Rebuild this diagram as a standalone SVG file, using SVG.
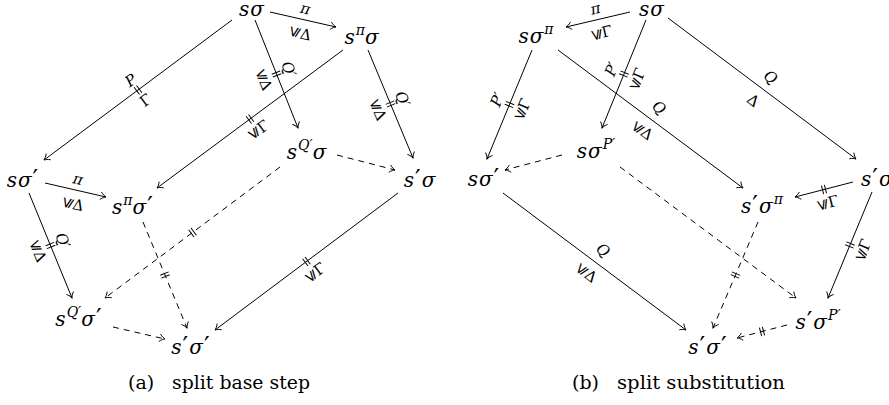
<svg xmlns="http://www.w3.org/2000/svg" width="889" height="405" viewBox="0 0 889 405">
<style>
text{font-family:"DejaVu Serif",serif;fill:#000}
.m{font-size:20px;font-style:italic;text-anchor:middle;letter-spacing:1px}
.sup{font-size:14px;letter-spacing:0}
.pr{font-size:25px;font-style:normal}
.l{font-size:15px;text-anchor:middle;dominant-baseline:central}
.li{font-style:italic}
.e{stroke:#000;stroke-width:1;fill:none}
.a{marker-end:url(#ah)}
.d{stroke-dasharray:6 5}
.cap{font-size:19px}
</style>
<defs>
<marker id="ah" viewBox="-7 -5 8 10" refX="0" refY="0" markerWidth="8" markerHeight="10" orient="auto" markerUnits="userSpaceOnUse">
<path d="M-5.5,-3.8 C-3.5,-1.6 -1.2,-0.4 0,0 C-1.2,0.4 -3.5,1.6 -5.5,3.8" fill="none" stroke="#000" stroke-width="0.9"/>
</marker>
</defs>
<rect width="889" height="405" fill="#fff"/>

<g id="connectors">
<!-- left diagram -->
<line class="e a" x1="232" y1="20" x2="44" y2="160"/>
<g transform="translate(138,90) rotate(-36.7)"><path class="e" d="M-1.5,-4.5V4.5M1.5,-4.5V4.5"/><text class="l li" y="-12">P</text><text class="l" y="13">Γ</text></g>
<line class="e a" x1="270" y1="12" x2="336" y2="27"/>
<g transform="translate(303,19.5) rotate(12.8)"><text class="l li" y="-11">π</text><text class="l" transform="translate(-6,14) rotate(-90)">⩽</text><text class="l" x="6" y="14">Δ</text></g>
<line class="e a" x1="255" y1="20" x2="298" y2="128"/>
<g transform="translate(276.5,74) rotate(68.3)"><path class="e" d="M-1.5,-4.5V4.5M1.5,-4.5V4.5"/><text class="l li" y="-13">Q′</text><text class="l" transform="translate(-6,14) rotate(-90)">⩽</text><text class="l" x="6" y="14">Δ</text></g>
<line class="e a" x1="343" y1="50" x2="157" y2="188"/>
<g transform="translate(250,119) rotate(-36.6)"><path class="e" d="M-1.5,-4.5V4.5M1.5,-4.5V4.5"/><text class="l" transform="translate(-6,14) rotate(-90)">⩽</text><text class="l" x="6" y="14">Γ</text></g>
<line class="e a" x1="368" y1="50" x2="413" y2="158"/>
<g transform="translate(390.5,104) rotate(67.4)"><path class="e" d="M-1.5,-4.5V4.5M1.5,-4.5V4.5"/><text class="l li" y="-13">Q′</text><text class="l" transform="translate(-6,14) rotate(-90)">⩽</text><text class="l" x="6" y="14">Δ</text></g>
<line class="e a" x1="45" y1="183" x2="106" y2="197"/>
<g transform="translate(75.5,190) rotate(13.1)"><text class="l li" y="-11">π</text><text class="l" transform="translate(-6,14) rotate(-90)">⩽</text><text class="l" x="6" y="14">Δ</text></g>
<line class="e a" x1="29" y1="193" x2="72" y2="298"/>
<g transform="translate(50.5,245.5) rotate(67.7)"><path class="e" d="M-1.5,-4.5V4.5M1.5,-4.5V4.5"/><text class="l li" y="-13">Q′</text><text class="l" transform="translate(-6,14) rotate(-90)">⩽</text><text class="l" x="6" y="14">Δ</text></g>
<line class="e a d" x1="337" y1="155" x2="395" y2="170"/>
<line class="e a d" x1="280" y1="167" x2="105" y2="298"/>
<g transform="translate(192.5,232.5) rotate(-36.8)"><path class="e" d="M-1.5,-4.5V4.5M1.5,-4.5V4.5"/></g>
<line class="e a d" x1="143" y1="222" x2="187" y2="328"/>
<g transform="translate(165,275) rotate(67.5)"><path class="e" d="M-1.5,-4.5V4.5M1.5,-4.5V4.5"/></g>
<line class="e a d" x1="113" y1="327" x2="165" y2="339"/>
<line class="e a" x1="398" y1="193" x2="215" y2="330"/>
<g transform="translate(306.5,261.5) rotate(-36.8)"><path class="e" d="M-1.5,-4.5V4.5M1.5,-4.5V4.5"/><text class="l" transform="translate(-6,14) rotate(-90)">⩽</text><text class="l" x="6" y="14">Γ</text></g>

<!-- right diagram -->
<line class="e a" x1="630" y1="12" x2="566" y2="27"/>
<g transform="translate(598,19.5) rotate(-13.2)"><text class="l li" y="-11">π</text><text class="l" transform="translate(-6,14) rotate(-90)">⩽</text><text class="l" x="6" y="14">Γ</text></g>
<line class="e a" x1="532" y1="50" x2="487" y2="159"/>
<g transform="translate(509.5,104.5) rotate(-67.6)"><path class="e" d="M-1.5,-4.5V4.5M1.5,-4.5V4.5"/><text class="l li" y="-13">P′</text><text class="l" transform="translate(-6,14) rotate(-90)">⩽</text><text class="l" x="6" y="14">Γ</text></g>
<line class="e a" x1="646" y1="20" x2="602" y2="128"/>
<g transform="translate(624,74) rotate(-67.8)"><path class="e" d="M-1.5,-4.5V4.5M1.5,-4.5V4.5"/><text class="l li" y="-13">P′</text><text class="l" transform="translate(-6,14) rotate(-90)">⩽</text><text class="l" x="6" y="14">Γ</text></g>
<line class="e a" x1="668" y1="18" x2="856" y2="159"/>
<g transform="translate(762,88.5) rotate(36.9)"><text class="l li" y="-14">Q</text><text class="l" y="15">Δ</text></g>
<line class="e a" x1="558" y1="50" x2="743" y2="188"/>
<g transform="translate(650.5,119) rotate(36.7)"><text class="l li" y="-14">Q</text><text class="l" transform="translate(-6,14) rotate(-90)">⩽</text><text class="l" x="6" y="14">Δ</text></g>
<line class="e a" x1="503" y1="193" x2="686" y2="330"/>
<g transform="translate(594.5,261.5) rotate(36.8)"><text class="l li" y="-14">Q</text><text class="l" transform="translate(-6,14) rotate(-90)">⩽</text><text class="l" x="6" y="14">Δ</text></g>
<line class="e a" x1="853" y1="182" x2="795" y2="197"/>
<g transform="translate(824,189.5) rotate(-14.5)"><path class="e" d="M-1.5,-4.5V4.5M1.5,-4.5V4.5"/><text class="l" transform="translate(-6,14) rotate(-90)">⩽</text><text class="l" x="6" y="14">Γ</text></g>
<line class="e a" x1="872" y1="192" x2="828" y2="298"/>
<g transform="translate(850,245) rotate(-67.5)"><path class="e" d="M-1.5,-4.5V4.5M1.5,-4.5V4.5"/><text class="l" transform="translate(-6,14) rotate(-90)">⩽</text><text class="l" x="6" y="14">Γ</text></g>
<line class="e a d" x1="562" y1="155" x2="505" y2="170"/>
<line class="e a d" x1="620" y1="167" x2="796" y2="298"/>
<line class="e a d" x1="758" y1="222" x2="713" y2="328"/>
<g transform="translate(735.5,275) rotate(-67)"><path class="e" d="M-1.5,-4.5V4.5M1.5,-4.5V4.5"/></g>
<line class="e a d" x1="787" y1="325" x2="737" y2="338"/>
<g transform="translate(762,331.5) rotate(-14.6)"><path class="e" d="M-1.5,-4.5V4.5M1.5,-4.5V4.5"/></g>
</g>

<!-- left nodes -->
<g id="a-s-sigma"><text class="m" x="252" y="16">sσ</text></g>
<g id="a-spi-sigma"><text class="m" x="362" y="44">s<tspan class="sup" dy="-9">π</tspan><tspan dy="9">σ</tspan></text></g>
<g id="a-s-sigmap"><text class="m" x="23" y="187">sσ<tspan class="pr">′</tspan></text></g>
<g id="a-spi-sigmap"><text class="m" x="133" y="214">s<tspan class="sup" dy="-9">π</tspan><tspan dy="9">σ</tspan><tspan class="pr">′</tspan></text></g>
<g id="a-sQ-sigma"><text class="m" x="307" y="159">s<tspan class="sup" dy="-9">Q′</tspan><tspan dy="9">σ</tspan></text></g>
<g id="a-sp-sigma"><text class="m" x="420" y="187">s<tspan class="pr">′</tspan>σ</text></g>
<g id="a-sQ-sigmap"><text class="m" x="79" y="326">s<tspan class="sup" dy="-9">Q′</tspan><tspan dy="9">σ</tspan><tspan class="pr">′</tspan></text></g>
<g id="a-sp-sigmap"><text class="m" x="191" y="354">s<tspan class="pr">′</tspan>σ<tspan class="pr">′</tspan></text></g>

<!-- right nodes -->
<g id="b-s-sigma"><text class="m" x="652" y="16">sσ</text></g>
<g id="b-s-sigmapi"><text class="m" x="536" y="43">sσ<tspan class="sup" dy="-9">π</tspan></text></g>
<g id="b-s-sigmap"><text class="m" x="484" y="186">sσ<tspan class="pr">′</tspan></text></g>
<g id="b-s-sigmaP"><text class="m" x="596" y="158">sσ<tspan class="sup" dy="-9">P′</tspan></text></g>
<g id="b-sp-sigma"><text class="m" x="861" y="186" style="text-anchor:start">s<tspan class="pr">′</tspan>σ</text></g>
<g id="b-sp-sigmapi"><text class="m" x="762" y="213">s<tspan class="pr">′</tspan>σ<tspan class="sup" dy="-9">π</tspan></text></g>
<g id="b-sp-sigmaP"><text class="m" x="818" y="329">s<tspan class="pr">′</tspan>σ<tspan class="sup" dy="-9">P′</tspan></text></g>
<g id="b-sp-sigmap"><text class="m" x="708" y="354">s<tspan class="pr">′</tspan>σ<tspan class="pr">′</tspan></text></g>

<g id="captions">
<text class="cap" x="128" y="389">(a)</text><text class="cap" x="172" y="389" textLength="138" lengthAdjust="spacingAndGlyphs">split base step</text>
<text class="cap" x="572" y="389">(b)</text><text class="cap" x="617" y="389" textLength="168" lengthAdjust="spacingAndGlyphs">split substitution</text>
</g>
</svg>
